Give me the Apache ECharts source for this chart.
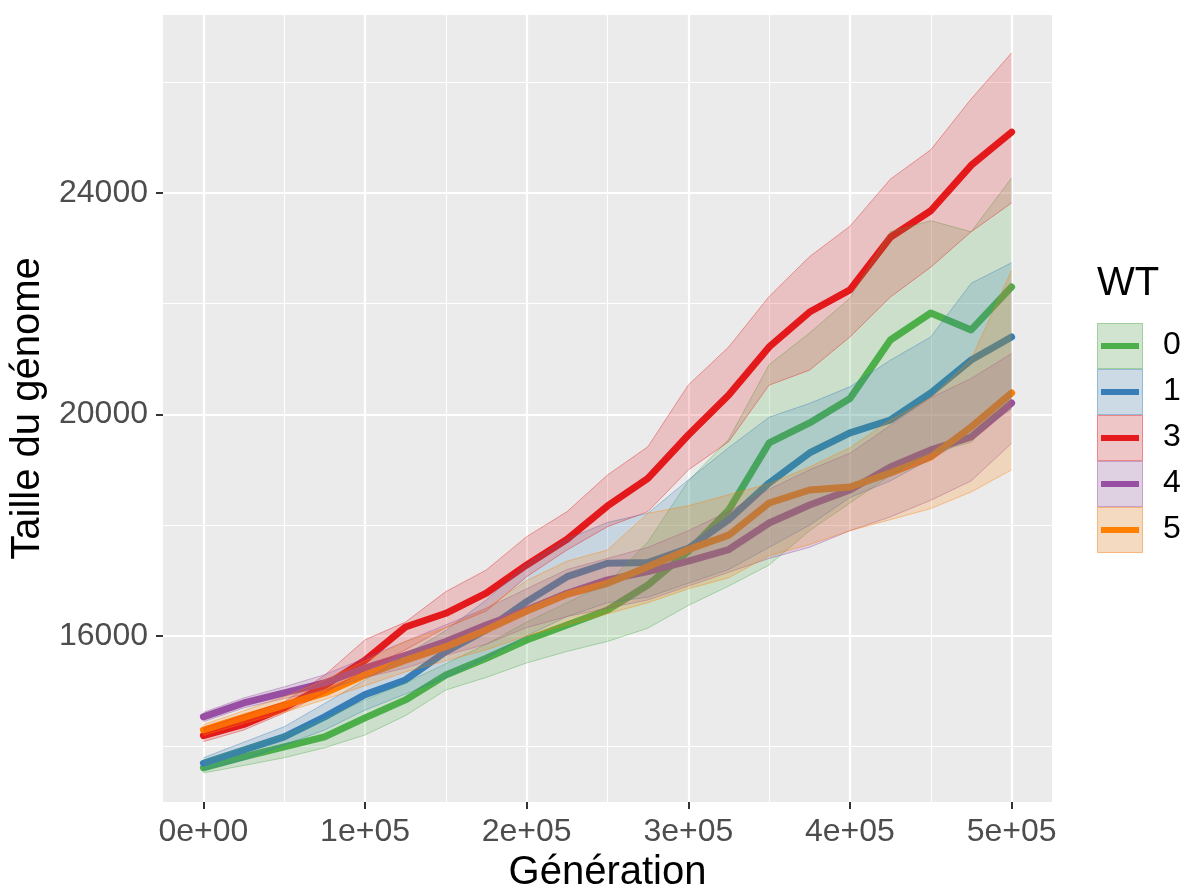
<!DOCTYPE html>
<html><head><meta charset="utf-8">
<script src="https://cdn.jsdelivr.net/npm/echarts@6/dist/echarts.min.js"></script>
<style>html,body{margin:0;padding:0;background:#fff}#c{width:1184px;height:889px}</style>
</head><body><div id="c"></div>
<script>
// ---- data ----
const generations = [0, 25000, 50000, 75000, 100000, 125000, 150000, 175000, 200000, 225000, 250000,
  275000, 300000, 325000, 350000, 375000, 400000, 425000, 450000, 475000, 500000];
const groups = ['0', '1', '3', '4', '5'];
const colors = ['#4DAF4A', '#377EB8', '#E41A1C', '#984EA3', '#FF7F00'];

const mean0 = [13616, 13814, 13995, 14175, 14520, 14844, 15295, 15596, 15927, 16198, 16469, 16920, 17530, 18275, 19485, 19846, 20290, 21345, 21833, 21526, 22303];
const upper0 = [13760, 13990, 14210, 14500, 14844, 15150, 15500, 15850, 16250, 16600, 16950, 17700, 18800, 19550, 20900, 21470, 22100, 23300, 23500, 23300, 24270];
const lower0 = [13525, 13660, 13800, 13980, 14210, 14560, 15024, 15250, 15512, 15720, 15900, 16140, 16550, 16900, 17280, 17900, 18400, 18900, 19300, 19500, 20300];

const mean1 = [13700, 13940, 14175, 14537, 14940, 15205, 15716, 16108, 16619, 17070, 17312, 17324, 17583, 18100, 18763, 19304, 19666, 19900, 20388, 20984, 21400];
const upper1 = [13800, 14080, 14360, 14780, 15205, 15650, 16100, 16650, 17300, 17750, 18050, 18215, 18817, 19400, 19950, 20200, 20500, 20980, 21400, 22370, 22740];
const lower1 = [13580, 13760, 14030, 14300, 14660, 14950, 15250, 15600, 16000, 16350, 16600, 16700, 16950, 17200, 17600, 18000, 18500, 18800, 19200, 19600, 20100];

const mean3 = [14200, 14400, 14700, 15100, 15560, 16160, 16409, 16771, 17282, 17746, 18347, 18847, 19629, 20352, 21220, 21850, 22250, 23200, 23680, 24500, 25100];
const upper3 = [14330, 14570, 14810, 15290, 15930, 16250, 16800, 17191, 17793, 18245, 18907, 19418, 20532, 21220, 22130, 22850, 23400, 24250, 24780, 25700, 26530];
const lower3 = [14090, 14300, 14610, 14970, 15380, 15750, 16150, 16450, 17070, 17553, 17973, 18245, 18997, 19509, 20530, 20800, 21400, 22120, 22660, 23300, 23820];

const mean4 = [14537, 14789, 14970, 15151, 15420, 15650, 15897, 16198, 16469, 16771, 17011, 17161, 17350, 17560, 18040, 18365, 18636, 19051, 19359, 19593, 20207];
const upper4 = [14620, 14880, 15080, 15300, 15600, 15900, 16200, 16500, 16850, 17200, 17400, 17600, 17900, 18250, 18650, 19000, 19300, 19800, 20300, 20650, 21100];
const lower4 = [14450, 14700, 14870, 15020, 15250, 15420, 15650, 15850, 16150, 16350, 16500, 16650, 16900, 17150, 17400, 17600, 17900, 18150, 18450, 18800, 19480];

const mean5 = [14300, 14530, 14750, 14970, 15295, 15560, 15806, 16108, 16450, 16750, 16950, 17250, 17560, 17820, 18400, 18636, 18690, 18943, 19232, 19774, 20388];
const upper5 = [14400, 14650, 14900, 15200, 15550, 15900, 16150, 16500, 17000, 17350, 17553, 18215, 18350, 18550, 18750, 19050, 19400, 19900, 20300, 21000, 22600];
const lower5 = [14200, 14420, 14620, 14850, 15100, 15350, 15550, 15750, 16000, 16200, 16400, 16600, 16850, 17050, 17450, 17650, 17900, 18100, 18300, 18600, 19000];

const xMajorTicks = [0, 100000, 200000, 300000, 400000, 500000];
const xTickLabels = ['0e+00', '1e+05', '2e+05', '3e+05', '4e+05', '5e+05'];
const xMinorTicks = [50000, 150000, 250000, 350000, 450000];
const yMajorTicks = [16000, 20000, 24000];
const yTickLabels = ['16000', '20000', '24000'];
const yMinorTicks = [14000, 18000, 22000, 26000];

const xTitle = 'Génération';
const yTitle = 'Taille du génome';
const legendTitle = 'WT';

// ---- build ----
const means = [mean0, mean1, mean3, mean4, mean5];
const uppers = [upper0, upper1, upper3, upper4, upper5];
const lowers = [lower0, lower1, lower3, lower4, lower5];

function rgba(hex, a) {
  const n = parseInt(hex.slice(1), 16);
  return 'rgba(' + ((n >> 16) & 255) + ',' + ((n >> 8) & 255) + ',' + (n & 255) + ',' + a + ')';
}

const F = '"Liberation Sans", Arial, Helvetica, sans-serif';
const series = [];
groups.forEach((g, i) => {
  series.push({
    type: 'line', name: g, data: generations.map((x, k) => [x, means[i][k]]),
    symbol: 'none', lineStyle: { color: colors[i], width: 7, cap: 'round', join: 'round' },
    z: 2, silent: true
  });
});
groups.forEach((g, i) => {
  const rows = generations.map((x, k) => [x, lowers[i][k], uppers[i][k]]);
  series.push({
    type: 'custom', name: 'ribbon ' + g, data: rows, encode: { x: 0, y: [1, 2] }, z: 3, silent: true,
    renderItem: function (params, api) {
      if (params.dataIndex !== 0) return;
      const up = rows.map(r => api.coord([r[0], r[2]]));
      const lo = rows.map(r => api.coord([r[0], r[1]]));
      const poly = up.concat(lo.slice().reverse());
      return {
        type: 'group',
        children: [
          { type: 'polygon', shape: { points: poly }, style: { fill: rgba(colors[i], 0.2), stroke: null } },
          { type: 'polyline', shape: { points: up }, style: { fill: null, stroke: rgba(colors[i], 0.5), lineWidth: 0.8 } },
          { type: 'polyline', shape: { points: lo }, style: { fill: null, stroke: rgba(colors[i], 0.5), lineWidth: 0.8 } }
        ]
      };
    }
  });
});

const gridL = 163, gridR = 1052, gridT = 15, gridB = 802;
const xMin = -25000, xMax = 525000, yMin = 13000, yMax = 27215;

const graphic = [];
graphic.push({ type: 'text', left: 1097, top: 264, style: { text: legendTitle, font: '40px ' + F, fill: '#000' } });
groups.forEach((g, i) => {
  const y0 = 323 + 46 * i;
  graphic.push({ type: 'rect', shape: { x: 1097, y: y0, width: 46, height: 46 }, style: { fill: '#F2F2F2' }, z: 10 });
  graphic.push({ type: 'rect', shape: { x: 1097.5, y: y0 + 0.5, width: 45, height: 45 },
    style: { fill: rgba(colors[i], 0.2), stroke: rgba(colors[i], 0.45), lineWidth: 1 }, z: 11 });
  graphic.push({ type: 'line', shape: { x1: 1101, y1: y0 + 23, x2: 1139, y2: y0 + 23 },
    style: { stroke: colors[i], lineWidth: 6 }, z: 12 });
  graphic.push({ type: 'text', left: 1163, top: y0 + 6, style: { text: g, font: '32px ' + F, fill: '#000' }, z: 12 });
});

const option = {
  animation: false,
  backgroundColor: '#fff',
  grid: { left: gridL, right: 1184 - gridR, top: gridT, bottom: 889 - gridB, show: true, backgroundColor: '#EBEBEB',
    borderWidth: 0, containLabel: false, outerBoundsMode: 'none' },
  xAxis: [
    {
      type: 'value', min: xMin, max: xMax,
      name: xTitle, nameLocation: 'middle', nameGap: 48,
      nameTextStyle: { fontFamily: F, fontSize: 40, color: '#000' },
      axisLine: { show: false, onZero: false },
      axisTick: { show: true, length: 7, lineStyle: { color: '#333', width: 2 }, customValues: xMajorTicks },
      axisLabel: { customValues: xMajorTicks, margin: 14, fontFamily: F, fontSize: 32, color: '#4D4D4D',
        formatter: v => xTickLabels[xMajorTicks.indexOf(v)] },
      splitLine: { show: true, lineStyle: { color: '#fff', width: 2.2 } }
    },
    {
      type: 'value', min: xMin, max: xMax, position: 'bottom',
      axisLine: { show: false, onZero: false }, axisLabel: { show: false },
      axisTick: { show: false, customValues: xMinorTicks },
      splitLine: { show: true, lineStyle: { color: '#fff', width: 1.1 } }
    }
  ],
  yAxis: [
    {
      type: 'value', min: yMin, max: yMax,
      name: yTitle, nameLocation: 'middle', nameGap: 110, nameRotate: 90,
      nameTextStyle: { fontFamily: F, fontSize: 40, color: '#000' },
      axisLine: { show: false, onZero: false },
      axisTick: { show: true, length: 7, lineStyle: { color: '#333', width: 2 }, customValues: yMajorTicks },
      axisLabel: { customValues: yMajorTicks, margin: 15, fontFamily: F, fontSize: 32, color: '#4D4D4D',
        formatter: v => yTickLabels[yMajorTicks.indexOf(v)] },
      splitLine: { show: true, lineStyle: { color: '#fff', width: 2.2 } }
    },
    {
      type: 'value', min: yMin, max: yMax, position: 'left',
      axisLine: { show: false, onZero: false }, axisLabel: { show: false },
      axisTick: { show: false, customValues: yMinorTicks },
      splitLine: { show: true, lineStyle: { color: '#fff', width: 1.1 } }
    }
  ],
  series: series,
  graphic: graphic
};
const chart = echarts.init(document.getElementById('c'), null, { renderer: 'canvas' });
chart.setOption(option);
</script></body></html>
